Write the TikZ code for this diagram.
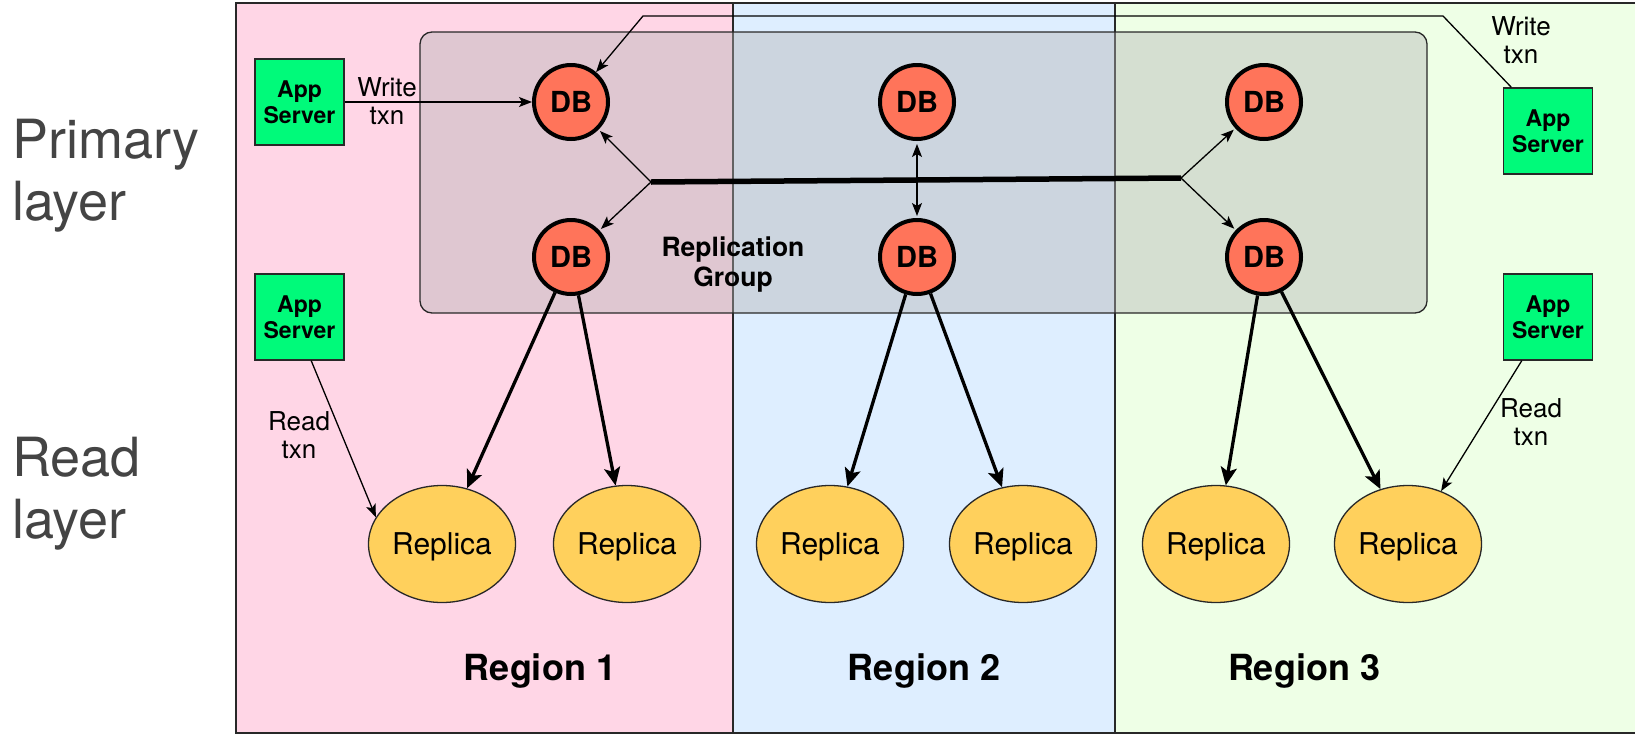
\documentclass[tikz,border=0pt]{standalone}
\usepackage{fontspec}
\setmainfont{TeX Gyre Heros}
\usetikzlibrary{arrows.meta,calc,shapes.geometric}

\definecolor{rone}{RGB}{255,214,230}
\definecolor{rtwo}{RGB}{222,238,255}
\definecolor{rthree}{RGB}{238,255,230}
\definecolor{groupgray}{RGB}{180,180,180}
\definecolor{dbfill}{RGB}{255,116,90}
\definecolor{appfill}{RGB}{0,250,122}
\definecolor{repfill}{RGB}{255,208,92}
\definecolor{labelgray}{RGB}{68,68,68}
\definecolor{framegray}{RGB}{40,40,40}

\begin{document}
\begin{tikzpicture}[x=1pt,y=-1pt,
  regionbox/.style={draw=framegray,line width=1.2pt},
  groupbox/.style={draw=framegray,line width=1.3pt,rounded corners=12pt,fill=groupgray,fill opacity=0.42},
  appserver/.style={draw=framegray,line width=1.3pt,fill=appfill,minimum width=89pt,minimum height=86pt,inner sep=0pt,align=center,font=\fontsize{23}{26}\selectfont\bfseries},
  db/.style={circle,draw=black,line width=4pt,fill=dbfill,minimum size=74pt,inner sep=0pt,font=\fontsize{29}{32}\selectfont\bfseries},
  replica/.style={ellipse,draw=framegray,line width=1.3pt,fill=repfill,minimum width=147pt,minimum height=117pt,inner sep=0pt,text depth=0pt,font=\fontsize{30}{34}\selectfont},
  thinarrow/.style={line width=1.3pt,-{Stealth[length=13pt,width=10pt,inset=3pt]}},
  thickarrow/.style={line width=3.3pt,-{Stealth[length=18pt,width=16pt,inset=4pt]}},
  txnlabel/.style={inner sep=0pt,align=center,font=\fontsize{26}{28.5}\selectfont},
  regionlabel/.style={inner sep=0pt,font=\fontsize{36}{40}\selectfont\bfseries},
  layerlabel/.style={inner sep=0pt,align=left,text=labelgray,font=\fontsize{54}{62}\selectfont},
  grouplabel/.style={inner sep=0pt,align=center,font=\fontsize{26.5}{30}\selectfont\bfseries}
]
\useasboundingbox (0,0) rectangle (1635,734);
\fill[white] (0,0) rectangle (1635,734);

% regions
\draw[regionbox,fill=rone] (236,3) rectangle (733,733);
\draw[regionbox,fill=rtwo] (733,3) rectangle (1115,733);
\draw[regionbox,fill=rthree] (1115,3) rectangle (1645,733);

% replication group
\draw[groupbox] (420,32) rectangle (1427,313);

% layer labels
\node[layerlabel,anchor=north west] (primary) at (12,119) {Primary\\layer};
\node[layerlabel,anchor=north west] (readlayer) at (12,437) {Read\\layer};

% app servers
\node[appserver] (a1) at (299.5,102) {App\\Server};
\node[appserver] (a2) at (299.5,317) {App\\Server};
\node[appserver] (a3) at (1548,131) {App\\Server};
\node[appserver] (a4) at (1548,317) {App\\Server};

% DBs
\node[db] (d1t) at (571,102) {DB};
\node[db] (d1b) at (571,257) {DB};
\node[db] (d2t) at (917,102) {DB};
\node[db] (d2b) at (917,257) {DB};
\node[db] (d3t) at (1264,102) {DB};
\node[db] (d3b) at (1264,257) {DB};

% replicas
\node[replica] (r1) at (442,544) {Replica};
\node[replica] (r2) at (627,544) {Replica};
\node[replica] (r3) at (830,544) {Replica};
\node[replica] (r4) at (1023,544) {Replica};
\node[replica] (r5) at (1216,544) {Replica};
\node[replica] (r6) at (1408,544) {Replica};

% labels
\node[grouplabel,anchor=north] (rg) at (733,237) {Replication\\Group};
\node[regionlabel,anchor=base] (reg1) at (540,680) {Region 1};
\node[regionlabel,anchor=base] (reg2) at (924,680) {Region 2};
\node[regionlabel,anchor=base] (reg3) at (1304,680) {Region 3};
\node[txnlabel,anchor=north] (wt1) at (387,77) {Write\\txn};
\node[txnlabel,anchor=north] (wt2) at (1521,16) {Write\\txn};
\node[txnlabel,anchor=north] (rt1) at (299,411) {Read\\txn};
\node[txnlabel,anchor=north] (rt2) at (1531,398) {Read\\txn};

% coordinates
\coordinate (j1) at (651,182);
\coordinate (j2) at (1181,178);
\coordinate (w1) at (643,16);
\coordinate (w2) at (1443,16);

% replication links
\draw[line width=5.5pt] (j1) -- (j2);
\draw[thinarrow,shorten >=2pt] (j1) -- (d1t);
\draw[thinarrow,shorten >=2pt] (j1) -- (d1b);
\draw[thinarrow,shorten >=2pt] (j2) -- (d3t);
\draw[thinarrow,shorten >=2pt] (j2) -- (d3b);
\draw[line width=1.3pt,{Stealth[length=13pt,width=10pt,inset=3pt]}-{Stealth[length=13pt,width=10pt,inset=3pt]},shorten <=3pt,shorten >=2pt] (d2t) -- (d2b);

% write txns
\draw[thinarrow] (a1) -- (d1t);
\draw[thinarrow] (a3.130) -- (w2) -- (w1) -- (d1t);

% read txns
\draw[thinarrow] (a2.-75) -- (r1.158);
\draw[thinarrow] (a4.-121) -- (r6.58);

% DB to replicas
\draw[thickarrow] (d1b) -- (r1);
\draw[thickarrow] (d1b) -- (r2);
\draw[thickarrow] (d2b) -- (r3);
\draw[thickarrow] (d2b) -- (r4);
\draw[thickarrow] (d3b) -- (r5);
\draw[thickarrow] (d3b) -- (r6);
\end{tikzpicture}
\end{document}
